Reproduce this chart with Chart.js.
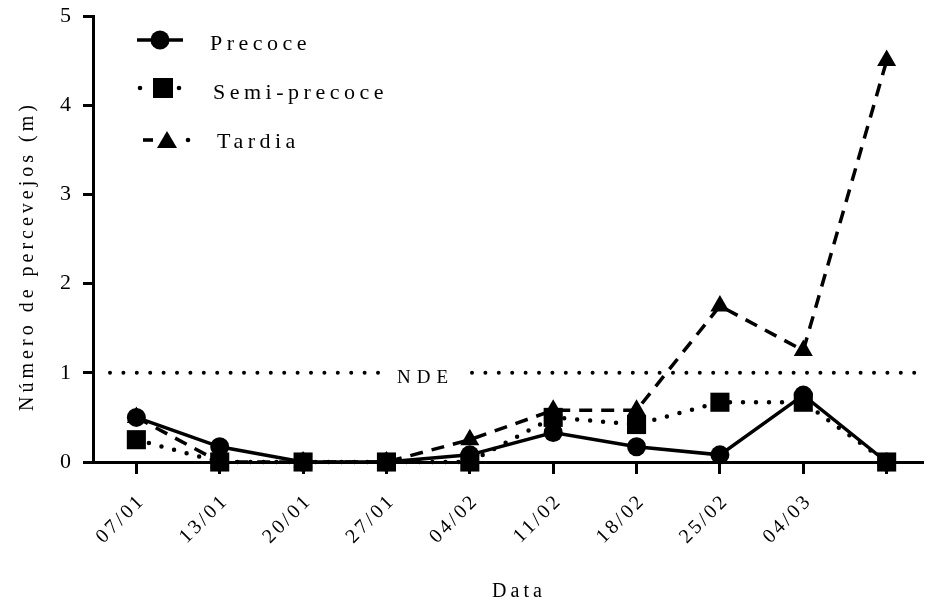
<!DOCTYPE html>
<html>
<head>
<meta charset="utf-8">
<script src="https://cdn.jsdelivr.net/npm/chart.js@4/dist/chart.umd.min.js"></script>
<style>
  html, body { margin: 0; padding: 0; background: #fff; }
  #wrap { width: 936px; height: 603px; position: relative; }
</style>
</head>
<body>
<div id="wrap"><canvas id="c"></canvas></div>
<script>
// Sampling dates (the last sample has no date label on the axis)
const categories = ['07/01', '13/01', '20/01', '27/01', '04/02', '11/02', '18/02', '25/02', '04/03', ''];

// Mean number of stink bugs per metre, by maturity group
const precoce     = [0.50, 0.17, 0, 0, 0.08, 0.33, 0.17, 0.08, 0.75, 0];
const semiPrecoce = [0.25, 0,    0, 0, 0,    0.50, 0.42, 0.67, 0.67, 0];
const tardia      = [0.50, 0,    0, 0, 0.25, 0.58, 0.58, 1.75, 1.25, 4.50];

const seriesNames = ['Precoce', 'Semi-precoce', 'Tardia'];
const yTicks = [0, 1, 2, 3, 4, 5];
const ndeLevel = 1;          // economic damage threshold
const ndeLabel = 'NDE';
const xTitle = 'Data';
const yTitle = 'Número de percevejos (m)';

const SERIF = '"Liberation Serif", "DejaVu Serif", serif';

const toPoints = arr => arr.map((v, i) => ({ x: i, y: v }));

// Dotted threshold line with a gap for its label
const ndePlugin = {
  id: 'nde',
  beforeDatasetsDraw(chart) {
    const { ctx, chartArea, scales } = chart;
    const y = scales.y.getPixelForValue(ndeLevel);
    const gapL = 380, gapR = 472;
    ctx.save();
    ctx.strokeStyle = '#000';
    ctx.lineWidth = 4;
    ctx.lineCap = 'round';
    ctx.setLineDash([0, 13.4]);
    ctx.beginPath();
    ctx.moveTo(chartArea.left + 17, y);
    ctx.lineTo(gapL, y);
    ctx.stroke();
    ctx.beginPath();
    ctx.moveTo(gapR, y);
    ctx.lineTo(chartArea.right, y);
    ctx.stroke();
    ctx.setLineDash([]);
    ctx.fillStyle = '#000';
    ctx.font = '19px ' + SERIF;
    ctx.letterSpacing = '6px';
    ctx.textAlign = 'left';
    ctx.textBaseline = 'middle';
    ctx.fillText(ndeLabel, 397, y + 5);
    ctx.restore();
  }
};

// Axis titles and legend, drawn with wide letter spacing
const textPlugin = {
  id: 'texts',
  beforeDraw(chart) {
    chart.ctx.letterSpacing = '3px';
  },
  afterDraw(chart) {
    const { ctx } = chart;
    ctx.save();
    ctx.fillStyle = '#000';
    ctx.strokeStyle = '#000';

    // axis titles
    ctx.font = '20px ' + SERIF;
    ctx.letterSpacing = '4px';
    ctx.textAlign = 'center';
    ctx.textBaseline = 'middle';
    ctx.fillText(xTitle, 519, 592);
    ctx.save();
    ctx.translate(28, 256);
    ctx.rotate(-Math.PI / 2);
    ctx.fillText(yTitle, 0, 0);
    ctx.restore();

    // legend
    const rows = [
      { y: 40, text: 210, base: 50 },
      { y: 88, text: 213, base: 99 },
      { y: 140, text: 217, base: 148 }
    ];
    ctx.lineWidth = 3.5;
    // Precoce: solid line + circle
    ctx.beginPath();
    ctx.moveTo(137, rows[0].y); ctx.lineTo(183, rows[0].y); ctx.stroke();
    ctx.beginPath(); ctx.arc(160, rows[0].y, 9.5, 0, Math.PI * 2); ctx.fill();
    // Semi-precoce: dots + square
    ctx.beginPath(); ctx.arc(140, rows[1].y, 2.3, 0, Math.PI * 2); ctx.fill();
    ctx.beginPath(); ctx.arc(179, rows[1].y, 2.3, 0, Math.PI * 2); ctx.fill();
    ctx.fillRect(153, rows[1].y - 10, 20, 20);
    // Tardia: dash + triangle + dot
    ctx.fillRect(143, rows[2].y - 1.8, 10, 3.6);
    ctx.beginPath();
    ctx.moveTo(167, rows[2].y - 9);
    ctx.lineTo(177, rows[2].y + 8);
    ctx.lineTo(157, rows[2].y + 8);
    ctx.closePath(); ctx.fill();
    ctx.beginPath(); ctx.arc(188, rows[2].y, 2.3, 0, Math.PI * 2); ctx.fill();

    ctx.font = '22px ' + SERIF;
    ctx.letterSpacing = '4.5px';
    ctx.textAlign = 'left';
    ctx.textBaseline = 'alphabetic';
    seriesNames.forEach((n, i) => ctx.fillText(n, rows[i].text, rows[i].base));
    ctx.restore();
  }
};

new Chart(document.getElementById('c'), {
  type: 'line',
  data: {
    datasets: [
      {
        label: seriesNames[0],
        data: toPoints(precoce),
        borderColor: '#000', backgroundColor: '#000',
        borderWidth: 3.5,
        pointStyle: 'circle', pointRadius: 9.5, pointBorderWidth: 0,
        order: 1, clip: false
      },
      {
        label: seriesNames[1],
        data: toPoints(semiPrecoce),
        borderColor: '#000', backgroundColor: '#000',
        borderWidth: 4.5, borderDash: [0, 13], borderCapStyle: 'round',
        pointStyle: 'rect', pointRadius: 13.5, pointBorderWidth: 0,
        order: 0, clip: false
      },
      {
        label: seriesNames[2],
        data: toPoints(tardia),
        borderColor: '#000', backgroundColor: '#000',
        borderWidth: 3.5, borderDash: [13, 9],
        pointStyle: 'triangle', pointRadius: 11, pointBorderWidth: 0,
        order: 2, clip: false
      }
    ]
  },
  options: {
    responsive: true,
    maintainAspectRatio: false,
    animation: false,
    events: [],
    layout: { padding: { top: 16, right: 0, left: 0, bottom: 0 } },
    plugins: { legend: { display: false }, tooltip: { enabled: false } },
    scales: {
      x: {
        type: 'linear',
        min: -0.52, max: 9.43,
        afterBuildTicks: s => { s.ticks = categories.map((c, i) => ({ value: i })); },
        afterFit: s => { s.height = 141; s.paddingLeft = 0; s.paddingRight = 0; },
        border: { color: '#000', width: 3 },
        grid: { drawOnChartArea: false, drawTicks: true, tickLength: 12, color: '#000', lineWidth: 3 },
        ticks: {
          autoSkip: false,
          maxRotation: 45, minRotation: 45,
          padding: 15, labelOffset: 6,
          color: '#000',
          font: { family: SERIF, size: 20 },
          callback: v => categories[v] ?? ''
        }
      },
      y: {
        min: 0, max: 5,
        afterBuildTicks: s => { s.ticks = yTicks.map(v => ({ value: v })); },
        afterFit: s => { s.width = 93; s.paddingTop = 0; s.paddingBottom = 0; },
        border: { color: '#000', width: 3 },
        grid: { drawOnChartArea: false, drawTicks: true, tickLength: 10, color: '#000', lineWidth: 3 },
        ticks: {
          padding: 9,
          color: '#000',
          font: { family: SERIF, size: 22 }
        }
      }
    }
  },
  plugins: [ndePlugin, textPlugin]
});
</script>
</body>
</html>
